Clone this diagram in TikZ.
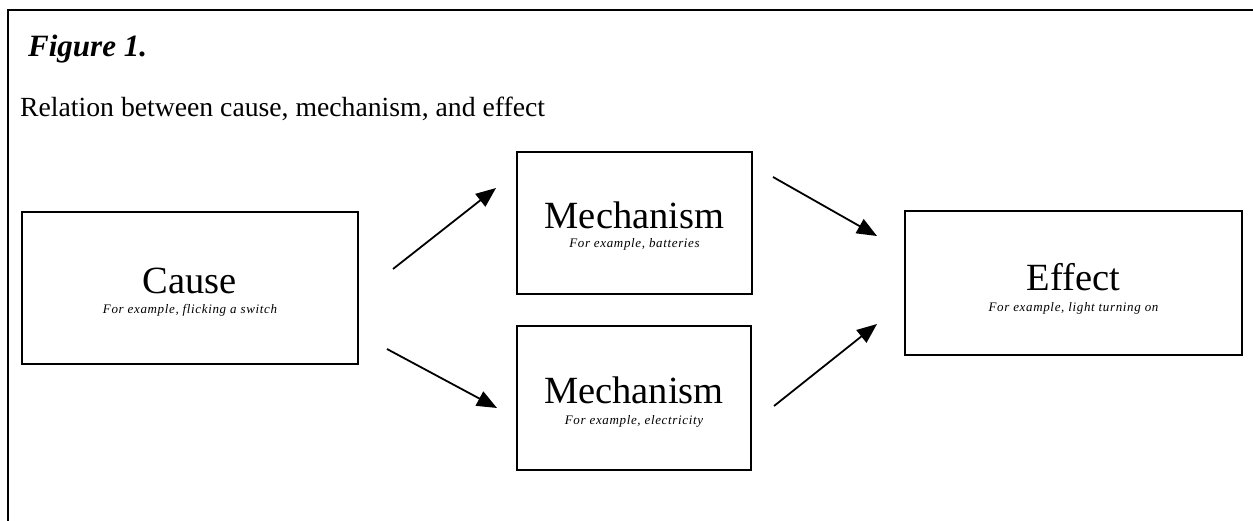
\documentclass[tikz,border=0pt]{standalone}
\usepackage{fontspec}
\setmainfont{Liberation Serif}
\usetikzlibrary{arrows.meta}

\tikzset{
  box/.style={draw, line width=1.8pt, inner sep=0pt},
  title/.style={anchor=base, inner sep=0pt, font=\fontsize{38.5}{42}\selectfont},
  example/.style={anchor=base, inner sep=0pt,
    font=\fontsize{13}{15}\selectfont\itshape\addfontfeatures{LetterSpace=5}},
  arr/.style={line width=1.8pt, -{Triangle[length=20pt, width=16pt]}}
}

\begin{document}
\begin{tikzpicture}[x=1pt, y=-1pt]
\useasboundingbox (0,0) rectangle (1253,521);
% frame, open at the right and at the bottom
\draw[line width=2.6pt] (1253,10) -- (8,10) -- (8,521);

% heading
\node[anchor=base west, inner sep=0pt, font=\fontsize{31}{36}\selectfont\bfseries\itshape] (fig) at (28,57) {Figure 1.};
\node[anchor=base west, inner sep=0pt, font=\fontsize{27.7}{32}\selectfont] (caption) at (20,117) {Relation between cause, mechanism, and effect};

% the four boxes
\node[box, minimum width=336pt, minimum height=152pt] (cause) at (190,288) {};
\node[box, minimum width=235pt, minimum height=142pt] (mechA) at (634.5,223) {};
\node[box, minimum width=234pt, minimum height=144pt] (mechB) at (634,398) {};
\node[box, minimum width=337pt, minimum height=144pt] (effect) at (1073.5,283) {};

% box texts
\node[title] (causeT) at ([yshift=-6pt]cause.center) {Cause};
\node[example] (causeX) at ([yshift=-26pt]cause.center) {For example, flicking a switch};

\node[title] (mechAT) at ([yshift=-6pt]mechA.center) {Mechanism};
\node[example] (mechAX) at ([yshift=-25pt]mechA.center) {For example, batteries};

\node[title] (mechBT) at ([yshift=-5pt]mechB.center) {Mechanism};
\node[example] (mechBX) at ([yshift=-26pt]mechB.center) {For example, electricity};

\node[title] (effectT) at ([yshift=-8pt]effect.center) {Effect};
\node[example] (effectX) at ([yshift=-29pt]effect.center) {For example, light turning on};

% arrow ends, the arrows stop short of the boxes
\coordinate (inA) at (393,269);
\coordinate (toA) at (496,188);
\coordinate (inB) at (387,349);
\coordinate (toB) at (497,408);
\coordinate (outA) at (773,177);
\coordinate (fromA) at (877,236);
\coordinate (outB) at (774,406);
\coordinate (fromB) at (877,324);

\draw[arr] (inA) -- (toA);
\draw[arr] (inB) -- (toB);
\draw[arr] (outA) -- (fromA);
\draw[arr] (outB) -- (fromB);

\end{tikzpicture}
\end{document}
